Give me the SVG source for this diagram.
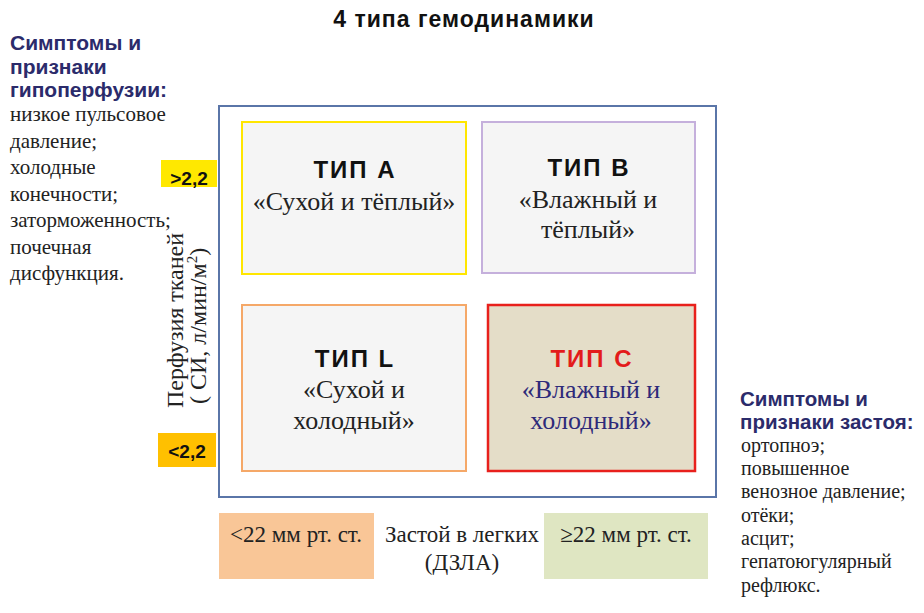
<svg xmlns="http://www.w3.org/2000/svg" width="924" height="613" viewBox="0 0 924 613">
<style>
.sans{font-family:"Liberation Sans",Arial,sans-serif}
.serif{font-family:"Liberation Serif","Times New Roman",serif}
.title{font-size:23px;font-weight:bold;fill:#111;letter-spacing:1px}
.head{font-size:21px;font-weight:bold;fill:#2b2b6b}
.headr{font-size:20.5px;font-weight:bold;fill:#2b2b6b}
.body{font-size:21px;fill:#222}
.bodyr{font-size:20px;fill:#222}
.tip{font-size:24px;font-weight:bold;fill:#111;letter-spacing:2px}
.box{fill:#f5f5f5;stroke-width:2}
.bt{font-size:26px;fill:#222}
.ax{font-size:23px;fill:#222}
.val{font-size:19px;font-weight:bold;fill:#111}
</style>
<rect width="924" height="613" fill="#ffffff"/>
<g id="title"><text class="sans title" x="464" y="27" text-anchor="middle">4 типа гемодинамики</text></g>
<g id="left-symptoms">
<text class="sans head" x="10" y="50">Симптомы и</text>
<text class="sans head" x="10" y="73.5">признаки</text>
<text class="sans head" x="10" y="97">гипоперфузии:</text>
<text class="serif body" x="10" y="121">низкое пульсовое</text>
<text class="serif body" x="10" y="147.5">давление;</text>
<text class="serif body" x="10" y="174">холодные</text>
<text class="serif body" x="10" y="200.5">конечности;</text>
<text class="serif body" x="10" y="227">заторможенность;</text>
<text class="serif body" x="10" y="253.5">почечная</text>
<text class="serif body" x="10" y="280">дисфункция.</text>
</g>
<g id="frame"><rect x="219" y="106" width="497" height="391" fill="none" stroke="#5a75a8" stroke-width="2"/></g>
<g id="hi-ci"><rect x="161" y="160" width="56" height="27" fill="#ffe800"/><text class="sans val" x="189" y="185" text-anchor="middle">&gt;2,2</text></g>
<g id="lo-ci"><rect x="158" y="433" width="58" height="34" fill="#ffc000"/><text class="sans val" x="187" y="458" text-anchor="middle">&lt;2,2</text></g>
<g id="y-axis">
<text class="serif" font-size="24" fill="#222" transform="translate(183,408) rotate(-90)">Перфузия тканей</text>
<text class="serif" font-size="24" fill="#222" transform="translate(206,404) rotate(-90)">( СИ, л/мин/м<tspan font-size="15" dy="-9">2</tspan><tspan dy="9">)</tspan></text>
</g>
<g id="type-a">
<rect class="box" x="242" y="122" width="224" height="152" stroke="#ffe600"/>
<text class="sans tip" x="355" y="178" text-anchor="middle">ТИП А</text>
<text class="serif bt" x="354" y="210" text-anchor="middle">«Сухой и тёплый»</text>
</g>
<g id="type-b">
<rect class="box" x="482" y="122" width="213" height="151" stroke="#c5b0dc"/>
<text class="sans tip" x="589" y="176" text-anchor="middle">ТИП В</text>
<text class="serif bt" x="588" y="208" text-anchor="middle">«Влажный и</text>
<text class="serif bt" x="588" y="238" text-anchor="middle">тёплый»</text>
</g>
<g id="type-l">
<rect class="box" x="242" y="305" width="224" height="166" stroke="#f5a868"/>
<text class="sans tip" x="355" y="367" text-anchor="middle">ТИП L</text>
<text class="serif bt" x="354" y="398" text-anchor="middle">«Сухой и</text>
<text class="serif bt" x="354" y="429" text-anchor="middle">холодный»</text>
</g>
<g id="type-c">
<rect x="488" y="305" width="207" height="166" fill="#e4ddc8" stroke="#e8201c" stroke-width="2.5"/>
<text class="sans tip" x="592" y="367" text-anchor="middle" style="fill:#e31b1b">ТИП С</text>
<text class="serif bt" x="591" y="398" text-anchor="middle" style="fill:#2e2a7a">«Влажный и</text>
<text class="serif bt" x="591" y="429" text-anchor="middle" style="fill:#2e2a7a">холодный»</text>
</g>
<g id="lo-pcwp"><rect x="219" y="513" width="155" height="66" fill="#f9c697"/><text class="serif ax" x="296" y="542" text-anchor="middle">&lt;22 мм рт. ст.</text></g>
<g id="x-axis"><text class="serif ax" x="462" y="542" text-anchor="middle">Застой в легких</text><text class="serif ax" x="462" y="570" text-anchor="middle">(ДЗЛА)</text></g>
<g id="hi-pcwp"><rect x="544" y="513" width="164" height="66" fill="#dfe6c2"/><text class="serif ax" x="626" y="542" text-anchor="middle">≥22 мм рт. ст.</text></g>
<g id="right-symptoms">
<text class="sans headr" x="740" y="406">Симптомы и</text>
<text class="sans headr" x="740" y="429">признаки застоя:</text>
<text class="serif bodyr" x="741" y="452">ортопноэ;</text>
<text class="serif bodyr" x="741" y="475">повышенное</text>
<text class="serif bodyr" x="741" y="498">венозное давление;</text>
<text class="serif bodyr" x="741" y="522">отёки;</text>
<text class="serif bodyr" x="741" y="545">асцит;</text>
<text class="serif bodyr" x="741" y="568">гепатоюгулярный</text>
<text class="serif bodyr" x="741" y="592">рефлюкс.</text>
</g>
<g id="connectors"></g>
</svg>
